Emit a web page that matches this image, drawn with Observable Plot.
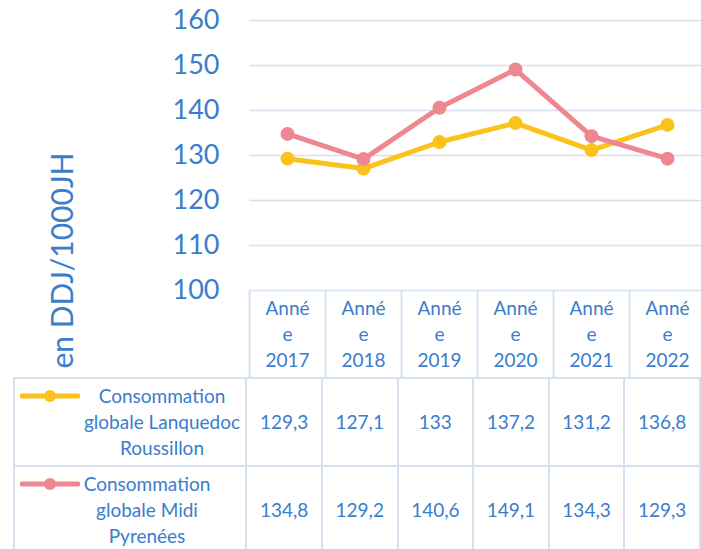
<!DOCTYPE html>
<html><head><meta charset="utf-8">
<script src="https://cdn.jsdelivr.net/npm/d3@7"></script>
<script src="https://cdn.jsdelivr.net/npm/@observablehq/plot@0.6"></script>
<style>
body{margin:0;background:#fff;}
#wrap{position:relative;width:701px;height:549px;overflow:hidden;background:#fff;font-family:Lato,sans-serif;}
#wrap svg.main{position:absolute;left:0;top:0;}
table.dt{position:absolute;left:13px;top:377px;border-collapse:collapse;table-layout:fixed;font-family:Lato,sans-serif;font-size:19px;color:#3A7DCB;}
table.dt td{border:2px solid #D5E0F1;height:86px;padding:0;text-align:center;vertical-align:middle;line-height:26px;}
td.lg{position:relative;}
td.lg .sw{position:absolute;left:5px;}
td.lg .tx{position:absolute;top:50%;transform:translate(-50%,-50%);white-space:nowrap;text-align:center;}
</style></head><body><div id="wrap"></div>
<script>
// ---- data ----
const categories = ["Année 2017","Année 2018","Année 2019","Année 2020","Année 2021","Année 2022"];
const languedoc = [129.3,127.1,133,137.2,131.2,136.8];
const midiPyrenees = [134.8,129.2,140.6,149.1,134.3,129.3];
const legendLanguedoc = ["Consommation","globale Lanquedoc","Roussillon"];
const legendMidi = ["Consommation","globale Midi","Pyrenées"];
const yTicks = [100,110,120,130,140,150,160];
const yLabel = "en DDJ/1000JH";

// ---- styles ----
const blue = "#3A7DCB";
const gridColor = "#D5E0F1";
const colors = ["#FBC21B","#EF8790"];

const fmtCat = d => { const [w, y] = d.split(" "); return w.slice(0,4) + "\n" + w.slice(4) + "\n" + y; };
const fmtVal = v => String(v).replace(".", ",");

const plot = Plot.plot({
  width: 701, height: 378,
  marginTop: 20, marginBottom: 0, marginLeft: 249, marginRight: 0,
  style: {fontFamily: "Lato, sans-serif", background: "transparent", color: blue},
  x: {type: "band", domain: categories, range: [249, 705], padding: 0, axis: null},
  y: {domain: [100, 160], range: [290, 20], axis: null},
  marks: [
    Plot.gridY(yTicks, {stroke: gridColor, strokeOpacity: 1, strokeWidth: 1.5}),
    Plot.ruleX(categories, {x: d => d, dx: -38, insetTop: 270, stroke: gridColor, strokeWidth: 2}),
    Plot.axisY(yTicks, {tickSize: 0, tickPadding: 30, fontSize: 27, color: blue, label: null}),
    Plot.text(categories, {x: d => d, y: () => yTicks[0], dy: 6, lineAnchor: "top", text: fmtCat, fontSize: 19, lineHeight: 1.37, fill: blue}),
    Plot.text([yLabel], {frameAnchor: "left", textAnchor: "middle", rotate: -90, dx: -186, dy: 61, fontSize: 30, fill: blue}),
    Plot.line(languedoc, {x: (d, i) => categories[i], y: d => d, stroke: colors[0], strokeWidth: 5}),
    Plot.dot(languedoc, {x: (d, i) => categories[i], y: d => d, r: 7, fill: colors[0]}),
    Plot.line(midiPyrenees, {x: (d, i) => categories[i], y: d => d, stroke: colors[1], strokeWidth: 5}),
    Plot.dot(midiPyrenees, {x: (d, i) => categories[i], y: d => d, r: 7, fill: colors[1]})
  ]
});
plot.classList.add("main");
const wrap = document.getElementById("wrap");
wrap.appendChild(plot);

// ---- data table ----
const series = [
  {lines: legendLanguedoc, values: languedoc, color: colors[0], cx: 147},
  {lines: legendMidi, values: midiPyrenees, color: colors[1], cx: 132}
];
const tbl = d3.select(wrap).append("table").attr("class", "dt");
const cg = tbl.append("colgroup");
cg.append("col").style("width", "236px");
categories.forEach(() => cg.append("col").style("width", "76px"));
series.forEach(s => {
  const tr = tbl.append("tr");
  const lg = tr.append("td").attr("class", "lg");
  const sw = lg.append("svg").attr("class", "sw").attr("width", 60).attr("height", 14)
    .style("top", "calc(50% - 33px)");
  sw.append("line").attr("x1", 2).attr("x2", 58).attr("y1", 7).attr("y2", 7)
    .attr("stroke", s.color).attr("stroke-width", 5).attr("stroke-linecap", "round");
  sw.append("circle").attr("cx", 30).attr("cy", 7).attr("r", 6).attr("fill", s.color);
  lg.append("div").attr("class", "tx").style("left", s.cx + "px").html(s.lines.join("<br>"));
  s.values.forEach(v => tr.append("td").text(fmtVal(v)));
});
</script></body></html>
